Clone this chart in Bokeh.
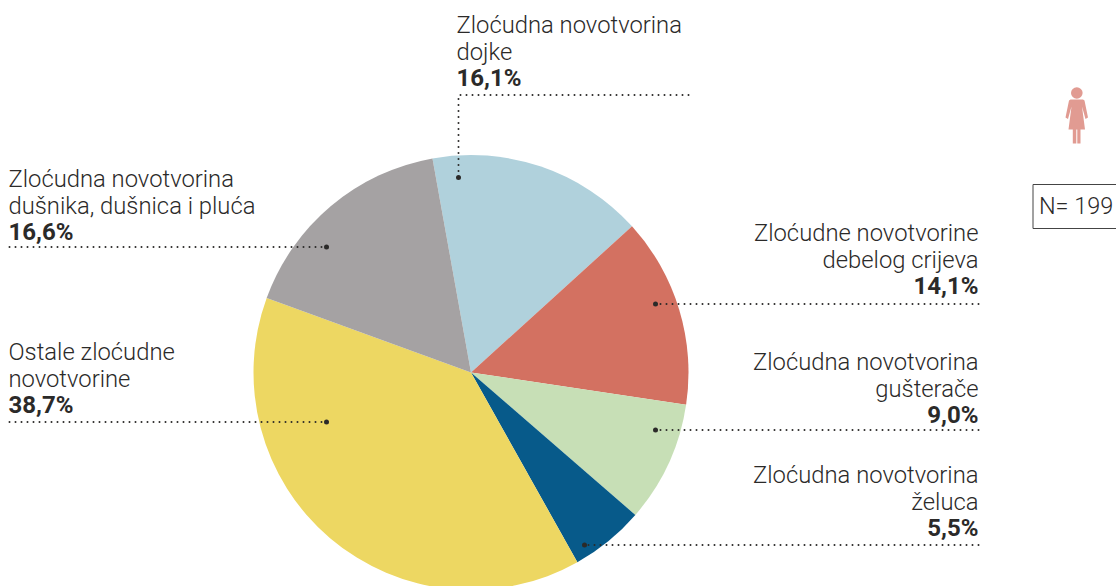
import math
from bokeh.plotting import figure
from bokeh.embed import file_html
from bokeh.resources import INLINE
from bokeh.core.properties import value
from bokeh.models import Range1d

W, H = 1116, 586
# data, clockwise from the dojke slice
categories = ["Zloćudna novotvorina dojke", "Zloćudne novotvorine debelog crijeva",
              "Zloćudna novotvorina gušterače", "Zloćudna novotvorina želuca",
              "Ostale zloćudne novotvorine", "Zloćudna novotvorina dušnika, dušnica i pluća"]
values = [16.1, 14.1, 9.0, 5.5, 38.7, 16.6]
pct_labels = ["16,1%", "14,1%", "9,0%", "5,5%", "38,7%", "16,6%"]
colors = ["#B0D1DC", "#D37161", "#C7DFB6", "#075A8A", "#EDD762", "#A5A2A3"]
name_lines = [["Zloćudna novotvorina", "dojke"], ["Zloćudne novotvorine", "debelog crijeva"],
              ["Zloćudna novotvorina", "gušterače"], ["Zloćudna novotvorina", "želuca"],
              ["Ostale zloćudne", "novotvorine"], ["Zloćudna novotvorina", "dušnika, dušnica i pluća"]]
n_label = "N= 199"

FONT = "Roboto Light"
FS = "23.8px"
FSB = "24px"
INK = "#2B2A29"
TXT = -9
def Y(py): return H - py

p = figure(width=W + 8, height=H + 8, output_backend="svg", toolbar_location=None,
           x_range=Range1d(-8, W), y_range=Range1d(0, H + 8), min_border=0,
           outline_line_color=None, background_fill_color="white", border_fill_color="white",
           margin=(-8, 0, 0, -8))
p.axis.visible = False
p.grid.visible = False

# pie
cx, cy, r = 470.5, 372, 217.5
a = 10.2
for v, c in zip(values, colors):
    b = a - v * 3.6
    p.wedge(x=[cx], y=[Y(cy)], radius=r, start_angle=math.radians(90 + b), end_angle=math.radians(90 + a),
            fill_color=c, line_color=None)
    a = b

# leaders: (polyline points, label x, align, first baseline)
layout = [
    ([(688, 94.5), (458, 94.5), (458, 177)], 456, "left", 33),
    ([(978, 303.5), (655, 303.5)], 978, "right", 241),
    ([(978, 429.5), (655, 429.5)], 978, "right", 370),
    ([(978, 544.5), (584, 544.5)], 978, "right", 483),
    ([(9, 421.5), (326, 421.5)], 8, "left", 360),
    ([(9, 246.5), (326, 246.5)], 8, "left", 187),
]
for (pts, tx, al, base), lines, pct in zip(layout, name_lines, pct_labels):
    p.line([q[0] for q in pts], [Y(q[1]) for q in pts], line_color=INK, line_width=2,
           line_dash="0 6", line_cap="round")
    p.scatter([pts[-1][0]], [Y(pts[-1][1])], size=5, color=INK, line_color=None)
    for i, t in enumerate(lines):
        p.text([tx], [Y(base + TXT + i * 27.5)], text=[t], text_font=value(FONT), text_font_size=FS,
               text_color=INK, text_align=al, text_baseline="alphabetic")
    p.text([tx], [Y(base + TXT + 53)], text=[pct], text_font=value("Roboto"), text_font_style="bold",
           text_font_size=FSB, text_color=INK, text_align=al, text_baseline="alphabetic")

# N box
p.line([1116, 1032.5, 1032.5, 1116], [Y(184), Y(184), Y(228), Y(228)], line_color="#444444", line_width=1)
p.text([1038.5], [Y(214.5 + TXT)], text=[n_label], text_font=value(FONT), text_font_size="23.4px",
       text_color=INK, text_align="left", text_baseline="alphabetic")

# woman icon
ICON = "#E19B92"
p.circle(x=[1076.3], y=[Y(92.5)], radius=5.8, fill_color=ICON, line_color=None)
body = [(1070, 99), (1082.5, 99), (1084, 100), (1087.5, 117), (1085, 118.5), (1081.5, 106),
        (1084.5, 129), (1080, 129), (1080, 143), (1076.8, 143), (1076.8, 129), (1075.8, 129),
        (1075.8, 143), (1072.3, 143), (1072.3, 129), (1068, 129), (1071, 106), (1067.5, 118.5),
        (1065, 117), (1068.5, 100)]
p.patch([q[0] for q in body], [Y(q[1]) for q in body], fill_color=ICON, line_color=None)

open("out.html", "w").write(file_html(p, INLINE))
